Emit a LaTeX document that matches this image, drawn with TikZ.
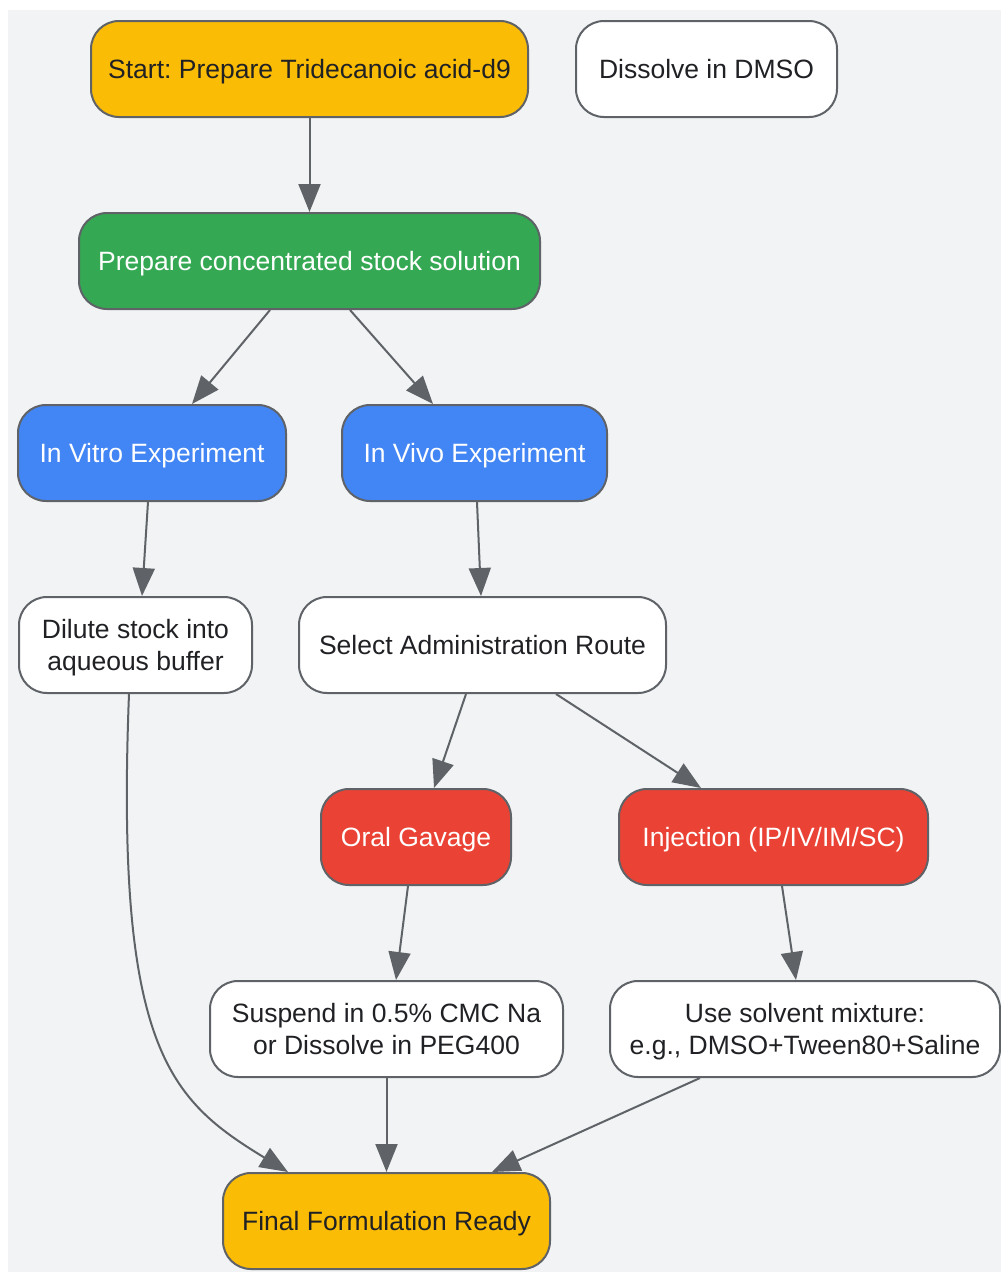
\documentclass[tikz,border=0pt]{standalone}
\usepackage{fontspec}
\setmainfont{Liberation Sans}
\frenchspacing
\usetikzlibrary{arrows.meta}
\definecolor{bgc}{HTML}{F1F3F4}
\definecolor{edgec}{HTML}{5F6368}
\definecolor{txtc}{HTML}{202124}
\definecolor{gyellow}{HTML}{FBBC05}
\definecolor{ggreen}{HTML}{34A853}
\definecolor{gblue}{HTML}{4285F4}
\definecolor{gred}{HTML}{EA4335}
\newcommand{\lbl}[1]{\raisebox{-3pt}[\height][\depth]{\begin{tabular}{@{}c@{}}#1\end{tabular}}}
\tikzset{
  box/.style={draw=edgec, line width=2pt, rounded corners=28pt, inner sep=0pt,
    minimum height=96pt, align=center, text=txtc,
    font=\fontsize{26.5}{32}\selectfont},
  whitebox/.style={box, fill=white},
  yellowbox/.style={box, fill=gyellow},
  greenbox/.style={box, fill=ggreen, text=white},
  bluebox/.style={box, fill=gblue, text=white},
  redbox/.style={box, fill=gred, text=white},
  arr/.style={draw=edgec, line width=2pt, -{Triangle[length=28pt,width=22pt]}}
}
\begin{document}
\begin{tikzpicture}[x=1pt,y=-1pt]
\useasboundingbox (0,0) rectangle (1001,1272);
\fill[bgc] (8,10) rectangle (1001,1272);

\node[yellowbox, minimum width=437pt] (start) at (309.5,69) {\lbl{Start: Prepare Tridecanoic acid-d9}};
\node[whitebox, minimum width=261pt] (dmso) at (706.5,69) {\lbl{Dissolve in DMSO}};
\node[greenbox, minimum width=461pt] (stock) at (309.5,261) {\lbl{Prepare concentrated stock solution}};
\node[bluebox, minimum width=268pt] (invitro) at (152,453) {\lbl{In Vitro Experiment}};
\node[bluebox, minimum width=265pt] (invivo) at (474.5,453) {\lbl{In Vivo Experiment}};
\node[whitebox, minimum width=233pt] (dilute) at (135.5,645) {\lbl{Dilute stock into\\aqueous buffer}};
\node[whitebox, minimum width=367pt] (select) at (482.5,645) {\lbl{Select Administration Route}};
\node[redbox, minimum width=190pt] (oral) at (416,837) {\lbl{Oral Gavage}};
\node[redbox, minimum width=309pt] (inj) at (773.5,837) {\lbl{Injection (IP/IV/IM/SC)}};
\node[whitebox, minimum width=353pt] (suspend) at (386.5,1029) {\lbl{Suspend in 0.5\% CMC Na\\or Dissolve in PEG400}};
\node[whitebox, minimum width=390pt] (solvent) at (805,1029) {\lbl{Use solvent mixture:\\e.g., DMSO+Tween80+Saline}};
\node[yellowbox, minimum width=327pt] (final) at (386.5,1221) {\lbl{Final Formulation Ready}};

\draw[arr] (start.south) -- (stock.north);
\draw[arr] ([xshift=-39.5pt]stock.south) -- ([xshift=40pt]invitro.north);
\draw[arr] ([xshift=40.5pt]stock.south) -- ([xshift=-41.5pt]invivo.north);
\draw[arr] ([xshift=-4pt]invitro.south) -- ([xshift=6.5pt]dilute.north);
\draw[arr] ([xshift=2.5pt]invivo.south) -- ([xshift=-1.5pt]select.north);
\draw[arr] ([xshift=-16.5pt]select.south) -- ([xshift=18pt]oral.north);
\draw[arr] ([xshift=73.5pt]select.south) -- ([xshift=-72.5pt]inj.north);
\draw[arr] ([xshift=-8pt]oral.south) -- ([xshift=9.5pt]suspend.north);
\draw[arr] ([xshift=8.5pt]inj.south) -- ([xshift=-9pt]solvent.north);
\draw[arr] ([xshift=-6.5pt]dilute.south) .. controls (115,1050) and (170,1100) .. ([xshift=-98.5pt]final.north);
\draw[arr] (suspend.south) -- (final.north);
\draw[arr] ([xshift=-105pt]solvent.south) -- ([xshift=105.5pt]final.north);
\end{tikzpicture}
\end{document}
